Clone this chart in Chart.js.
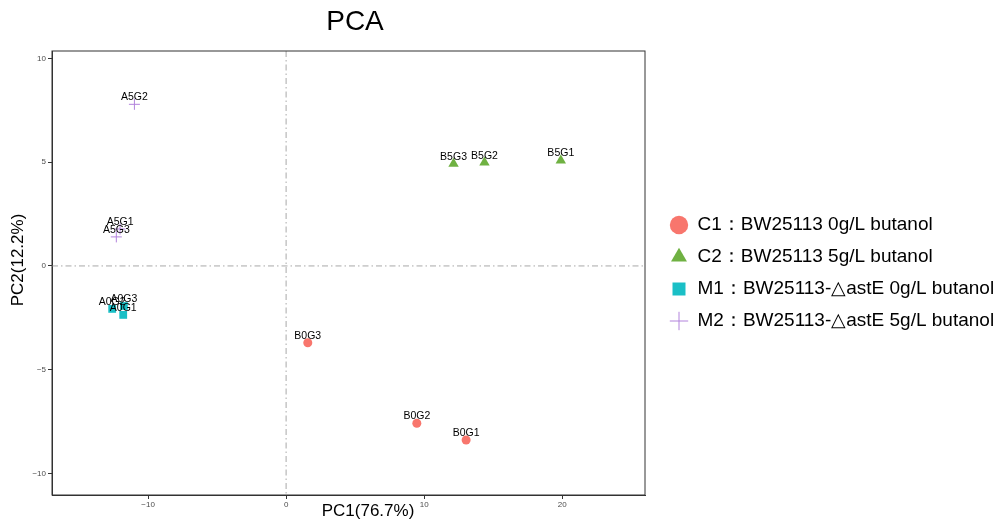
<!DOCTYPE html>
<html>
<head>
<meta charset="utf-8">
<script src="https://cdn.jsdelivr.net/npm/chart.js@4/dist/chart.umd.min.js"></script>
<style>
  body { margin: 0; background: #fff; }
  #wrap { width: 995px; height: 519px; }
</style>
</head>
<body>
<div id="wrap"><canvas id="pca"></canvas></div>
<script>
// group names (legend)
const groupNames = [
  "C1\uFF1ABW25113 0g/L butanol",
  "C2\uFF1ABW25113 5g/L butanol",
  "M1\uFF1ABW25113-\u25B3astE 0g/L butanol",
  "M2\uFF1ABW25113-\u25B3astE 5g/L butanol"
];

// samples per group
const c1Samples = ["B0G1", "B0G2", "B0G3"];
const c1PC1 = [13.04, 9.47, 1.57];
const c1PC2 = [-8.39, -7.58, -3.70];

const c2Samples = ["B5G1", "B5G2", "B5G3"];
const c2PC1 = [19.9, 14.37, 12.13];
const c2PC2 = [5.08, 4.98, 4.92];

const m1Samples = ["A0G1", "A0G2", "A0G3"];
const m1PC1 = [-11.8, -12.6, -11.75];
const m1PC2 = [-2.36, -2.07, -1.93];

const m2Samples = ["A5G1", "A5G2", "A5G3"];
const m2PC1 = [-12.03, -10.99, -12.3];
const m2PC2 = [1.78, 7.79, 1.40];

// tick values
const xTickValues = [-10, 0, 10, 20];
const yTickValues = [-10, -5, 0, 5, 10];

const FONT = "'Liberation Sans', Arial, sans-serif";

function toPoints(xs, ys, names) {
  return xs.map(function (v, i) {
    return { x: v, y: ys[i], name: names[i] };
  });
}

//draws zero lines, sample labels, frame and titles
const pcaDecor = {
  id: "pcaDecor",
  beforeDatasetsDraw(chart) {
    const { ctx, chartArea: a, scales } = chart;
    const x0 = scales.x.getPixelForValue(0);
    const y0 = scales.y.getPixelForValue(0);
    ctx.save();
    ctx.strokeStyle = "#a8a8a8";
    ctx.lineWidth = 1;
    ctx.setLineDash([6, 3, 1.5, 3]);
    ctx.beginPath();
    ctx.moveTo(x0, a.top);
    ctx.lineTo(x0, a.bottom);
    ctx.moveTo(a.left, y0);
    ctx.lineTo(a.right, y0);
    ctx.stroke();
    ctx.restore();
  },
  afterDatasetsDraw(chart) {
    const ctx = chart.ctx;
    ctx.save();
    ctx.font = "10.5px " + FONT;
    ctx.fillStyle = "#000";
    ctx.textAlign = "center";
    ctx.textBaseline = "middle";
    chart.data.datasets.forEach(function (ds, i) {
      chart.getDatasetMeta(i).data.forEach(function (el, j) {
        ctx.fillText(ds.data[j].name, el.x, el.y - 7);
      });
    });
    ctx.restore();
  },
  afterDraw(chart) {
    const { ctx, chartArea: a } = chart;
    ctx.save();
    ctx.strokeStyle = "#333";
    ctx.lineWidth = 1;
    ctx.strokeRect(a.left, a.top, a.right - a.left, a.bottom - a.top);

    ctx.fillStyle = "#000";
    ctx.textAlign = "center";
    ctx.textBaseline = "middle";
    ctx.font = "28px " + FONT;
    ctx.fillText("PCA", 355, 22);
    ctx.font = "17px " + FONT;
    ctx.fillText("PC1(76.7%)", 368, 511);
    ctx.translate(18, 260);
    ctx.rotate(-Math.PI / 2);
    ctx.fillText("PC2(12.2%)", 0, 0);
    ctx.restore();
  }
};

const ctx = document.getElementById("pca").getContext("2d");

new Chart(ctx, {
  type: "scatter",
  data: {
    datasets: [
      {
        label: groupNames[0],
        data: toPoints(c1PC1, c1PC2, c1Samples),
        pointStyle: "circle",
        pointRadius: 4.5,
        backgroundColor: "#F8766D",
        borderColor: "#F8766D",
        borderWidth: 0
      },
      {
        label: groupNames[1],
        data: toPoints(c2PC1, c2PC2, c2Samples),
        pointStyle: "triangle",
        pointRadius: 6,
        backgroundColor: "#6FB142",
        borderColor: "#6FB142",
        borderWidth: 0
      },
      {
        label: groupNames[2],
        data: toPoints(m1PC1, m1PC2, m1Samples),
        pointStyle: "rect",
        pointRadius: 5.5,
        backgroundColor: "#1ABFC6",
        borderColor: "#1ABFC6",
        borderWidth: 0
      },
      {
        label: groupNames[3],
        data: toPoints(m2PC1, m2PC2, m2Samples),
        pointStyle: "cross",
        pointRadius: 5.5,
        backgroundColor: "#B283DC",
        borderColor: "#B283DC",
        borderWidth: 1
      }
    ]
  },
  options: {
    responsive: true,
    maintainAspectRatio: false,
    animation: false,
    layout: { padding: { top: 51, left: 0, right: 0, bottom: 0 } },
    scales: {
      x: {
        type: "linear",
        min: -16.96,
        max: 26.0,
        afterBuildTicks(s) {
          s.ticks = xTickValues.map(function (v) { return { value: v }; });
        },
        afterFit(s) { s.height = 24; },
        grid: { display: true, drawOnChartArea: false, drawTicks: true, tickLength: 4, color: "#333" },
        border: { display: true, color: "#333" },
        ticks: {
          padding: 1,
          color: "#4d4d4d",
          font: { size: 8, family: FONT },
          maxRotation: 0,
          callback: function (v) { return String(v).replace("-", "\u2212"); }
        }
      },
      y: {
        type: "linear",
        min: -11.04,
        max: 10.36,
        afterBuildTicks(s) {
          s.ticks = yTickValues.map(function (v) { return { value: v }; });
        },
        afterFit(s) { s.width = 52; },
        grid: { display: true, drawOnChartArea: false, drawTicks: true, tickLength: 4, color: "#333" },
        border: { display: true, color: "#333" },
        ticks: {
          padding: 2,
          color: "#4d4d4d",
          font: { size: 8, family: FONT },
          callback: function (v) { return String(v).replace("-", "\u2212"); }
        }
      },
      y2: {
        type: "linear",
        position: "right",
        display: true,
        afterFit(s) { s.width = 12; },
        grid: { display: false },
        border: { display: false },
        ticks: { display: false }
      }
    },
    plugins: {
      title: { display: false },
      tooltip: { enabled: false },
      legend: {
        position: "right",
        fullSize: false,
        maxWidth: 338,
        labels: {
          usePointStyle: true,
          boxWidth: 18,
          boxHeight: 13,
          padding: 13,
          color: "#000",
          font: { size: 19, family: FONT }
        }
      }
    }
  },
  plugins: [pcaDecor]
});
</script>
</body>
</html>
